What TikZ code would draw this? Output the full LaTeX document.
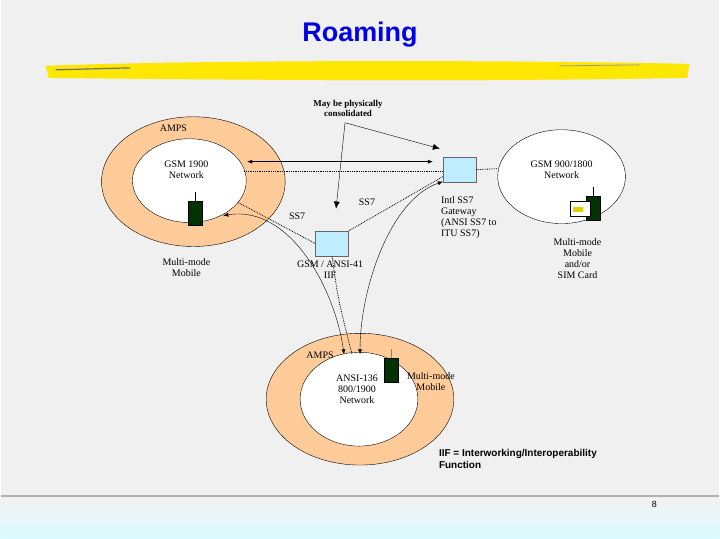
\documentclass[tikz,border=0pt]{standalone}
\usepackage{fontspec}
\setmainfont{Liberation Serif}
\newfontfamily\arial{Liberation Sans}
\usetikzlibrary{arrows.meta}
\begin{document}
\begin{tikzpicture}[x=1pt,y=-1pt,
  lbl/.style={font=\fontsize{10}{11}\selectfont,align=center,inner sep=0pt},
  box/.style={draw=black!60,fill=blue!30!cyan!25,minimum width=33,minimum height=25,inner sep=0pt},
  phone/.style={draw=black,fill=green!20!black,minimum width=14,minimum height=24,inner sep=0pt},
  dots/.style={densely dotted,thick},
  tip/.style={-{Latex[length=7pt,width=6pt]}},
  tips/.style={{Latex[length=7pt,width=6pt]}-{Latex[length=7pt,width=6pt]}},
  smtips/.style={{Latex[length=5pt,width=4pt]}-{Latex[length=5pt,width=4pt]}}]
\fill[gray!12] (0,0) rectangle (720,540);
\shade[top color=gray!10,bottom color=blue!12!cyan!15] (0,500) rectangle (720,540);
\draw[gray!60,line width=1.5] (0,497) -- (720,497);
\node[font=\arial\bfseries\fontsize{27}{29}\selectfont,text=blue!90!black] (title) at (360,35) {Roaming};
\fill[yellow!90!orange] (45,66) .. controls (200,60) and (500,60) .. (690,64) -- (688,78) .. controls (500,82) and (200,80) .. (48,78) -- cycle;
\draw[black!55,line width=1.2] (55,70) -- (130,68);
\draw[black!40,line width=0.8] (560,66) -- (640,65);
% left ring
\fill[orange!40!white,draw=black] (193,182) ellipse [x radius=92,y radius=65];
\fill[white,draw=black] (189,181) ellipse [x radius=57,y radius=42];
\node[lbl] (amps1) at (173,129) {AMPS};
\node[lbl] (gsm19) at (186,170) {GSM 1900\\Network};
\draw (195,202) -- (195,192);
\node[phone] (ph1) at (195,214) {};
\node[lbl] (mm1) at (186,268) {Multi-mode\\Mobile};
% right
\fill[white,draw=black] (562,177) ellipse [x radius=64,y radius=47];
\node[lbl] (gsm98) at (562,170) {GSM 900/1800\\Network};
\draw (594,196) -- (594,187);
\node[phone] (ph2) at (594,209) {};
\node[draw=black,fill=white,minimum width=20,minimum height=15,inner sep=0pt] (sim) at (581,209) {};
\fill[yellow!70!olive] (573,207) rectangle (583,212);
\node[lbl] (mm2) at (578,259) {Multi-mode\\Mobile\\and/or\\SIM Card};
% boxes
\node[box] (gw) at (460,170) {};
\node[lbl,align=left] (gwl) at (469,218) {Intl SS7\\Gateway\\(ANSI SS7 to\\ITU SS7)};
\node[box] (iif) at (332,244) {};
\node[lbl] (iifl) at (330,270) {GSM / ANSI-41\\IIF};
\node[lbl,font=\bfseries\fontsize{9}{10}\selectfont] (cons) at (348,109) {May be physically\\consolidated};
\node[lbl] (ss7a) at (297,217) {SS7};
\node[lbl] (ss7b) at (367,203) {SS7};
% bottom ring
\fill[orange!40!white,draw=black] (360,400) ellipse [x radius=94,y radius=66];
\fill[white,draw=black] (359,400) ellipse [x radius=59,y radius=47];
\node[lbl] (amps3) at (320,356) {AMPS};
\node[lbl] (ansi) at (357,390) {ANSI-136\\800/1900\\Network};
\draw[gray] (391,359) -- (391,350);
\node[phone] (ph3) at (391,371) {};
\node[lbl] (mm3) at (431,382) {Multi-mode\\Mobile};
\node[font=\arial\bfseries\fontsize{10}{12}\selectfont,align=left,anchor=north west,inner sep=0pt] (iifdef) at (439,450) {IIF = Interworking/Interoperability\\Function};
\node[font=\arial\fontsize{9}{10}\selectfont] (pg) at (655,505) {8};
% connectors
\coordinate (c0) at (345,123);
\coordinate (gl) at (247,162);
\coordinate (gr) at (433,162);
\coordinate (b1) at (344,355);
\coordinate (b2) at (360,355);
\coordinate (b3) at (352,355);
\coordinate (p1) at (223,216);
\coordinate (g2) at (443,182);
\draw[tip] (c0) -- (440,149);
\draw[tip] (c0) -- (336,209);
\draw[smtips] (gl) -- (gr);
\draw[dots] (244,172) -- (gw.west |- 0,172);
\draw[dots] (gw.east) -- (498,169);
\draw[dots] (238,203) -- (iif.west);
\draw[dots] (iif.north east) -- (443,177);
\draw[dots] (iif.south) .. controls (338,300) .. (b3);
\draw[smtips] (p1) .. controls (290,205) and (335,290) .. (b1);
\draw[smtips] (g2) .. controls (390,200) and (360,290) .. (b2);
\end{tikzpicture}
\end{document}
